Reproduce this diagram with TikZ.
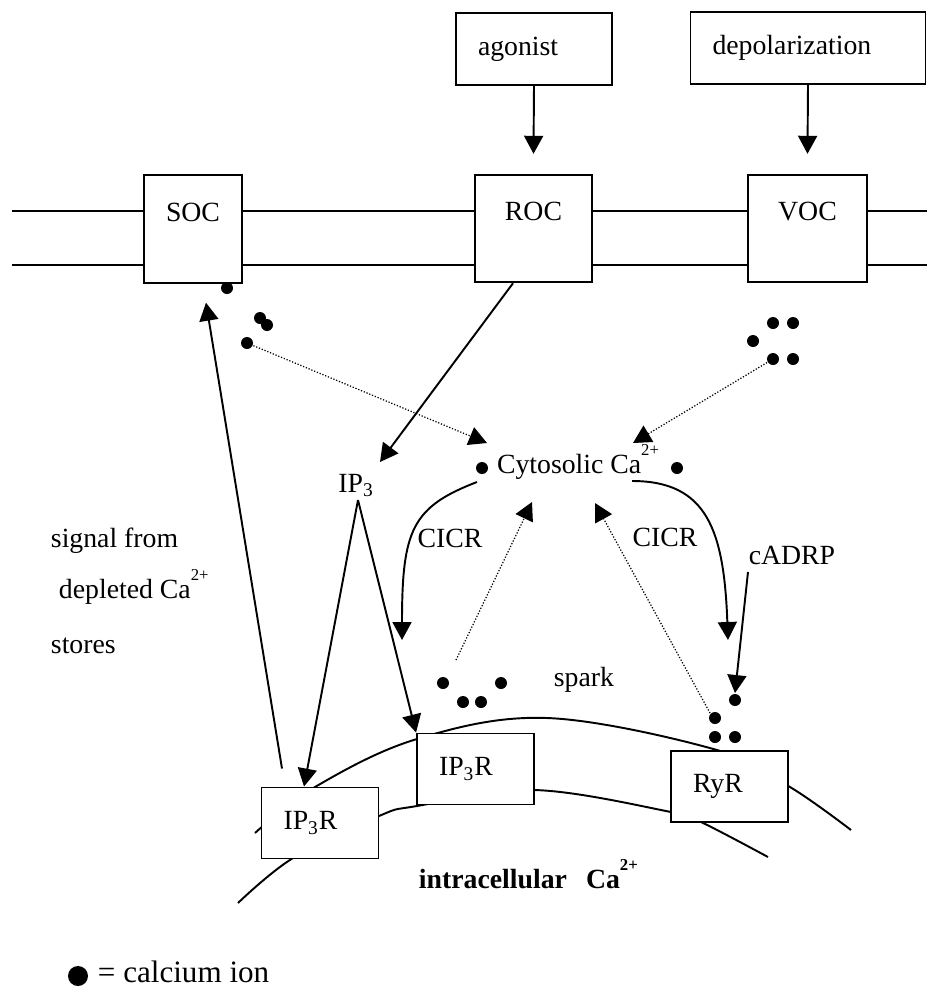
\documentclass[tikz,border=0pt]{standalone}
\usepackage{fontspec}
\setmainfont{Liberation Serif}
\usetikzlibrary{arrows.meta}
\newcommand{\mainsize}{\fontsize{15.8pt}{19pt}\selectfont}
\newcommand{\caii}{Ca\raisebox{0.62em}{\fontsize{9.5pt}{10pt}\selectfont 2+}}
\newcommand{\ipt}{IP\textsubscript{3}}

\begin{document}
\begin{tikzpicture}[x=0.02cm,y=-0.02cm,>={Triangle[length=0.36cm,width=0.38cm]},
                    font=\mainsize,line width=1.1pt]
  \tikzstyle{box}=[draw,fill=white,inner sep=0pt]
  \tikzstyle{chan}=[box,minimum height=2.15cm]
  \tikzstyle{lbl}=[anchor=center,yshift=-0.76cm]
  \tikzstyle{stim}=[box,inner xsep=0.44cm,align=left,minimum height=1.44cm]
  \tikzstyle{rec}=[box,inner xsep=0.44cm,align=left,text width=1.46cm,minimum height=1.42cm]
  \tikzstyle{ion}=[circle,fill=black,inner sep=0pt,minimum size=0.24cm]
  \tikzstyle{sig}=[->]
  \tikzstyle{leak}=[->,densely dotted,line width=0.7pt]

  \useasboundingbox (0,0) rectangle (927,991);

  \draw (12,211) -- (927,211);
  \draw (12,265) -- (927,265);
  \draw plot[smooth,tension=0.6] coordinates {(255,833) (315,787) (417,739) (547,718) (717,750) (790,787) (851,830)};
  \draw plot[smooth,tension=0.6] coordinates {(238,903) (293,858) (379,816) (417,806) (534,790) (671,812) (701,822) (768,857)};

  \node[stim,text width=2.24cm] (agonist) at (534,49) {agonist};
  \node[stim,text width=3.82cm] (depol)   at (808,48) {depolarization};

  \node[chan,minimum width=1.96cm,label={[lbl]north:SOC}] (soc) at (193,229)   {};
  \node[chan,minimum width=2.34cm,label={[lbl]north:ROC}] (roc) at (533.5,228.5) {};
  \node[chan,minimum width=2.38cm,label={[lbl]north:VOC}] (voc) at (807.5,228.5) {};

  \node[rec] (ip3rA) at (320,823)     {\ipt R};
  \node[rec] (ip3rB) at (475.5,769)   {\ipt R};
  \node[rec] (ryr)   at (729.5,786.5) {RyR};

  \node[anchor=base,inner sep=0pt] (cyto) at (578,473) {Cytosolic \caii};
  \node[anchor=base,inner sep=0pt] (ip3)  at (356,492) {\ipt};
  \node (cicrA) at (450,538) {CICR};
  \node (cicrB) at (665,537) {CICR};
  \node (cadrp) at (792,555) {cADRP};
  \node (spark) at (584,680) {spark};
  \node[anchor=base west,inner sep=0pt] (sig1) at (50,547) {signal from};
  \node[anchor=base west,inner sep=0pt] (sig2) at (58,598) {depleted \caii};
  \node[anchor=base west,inner sep=0pt] (sig3) at (50,653) {stores};
  \node[anchor=base west,inner sep=0pt,font=\mainsize\bfseries] (intra) at (418,888)
       {intracellular\hspace{0.38cm}\caii};

  \foreach \x/\y [count=\i] in {227/288,260/318,267/325,247/343}
    \node[ion] (s\i) at (\x,\y) {};
  \foreach \x/\y [count=\i] in {773/323,793/323,753/341,773/359,793/359}
    \node[ion] (v\i) at (\x,\y) {};
  \foreach \x/\y [count=\i] in {443/683,501/683,463/702,481/702}
    \node[ion] (k\i) at (\x,\y) {};
  \foreach \x/\y [count=\i] in {735/700,715/718,715/737,735/737}
    \node[ion] (r\i) at (\x,\y) {};
  \node[ion] (cl) at (482,468) {};
  \node[ion] (cr) at (677,468) {};

  \coordinate (cA) at (402,640);
  \coordinate (cB) at (728,640);

  \draw[sig] (agonist.south) -- ([yshift=0.4cm]roc.north);
  \draw[sig] (depol.south) -- ([yshift=0.4cm]voc.north);
  \draw[sig] ([xshift=-0.41cm]roc.south) -- ([shift={(24,-30)}]ip3.base);
  \draw[sig] ([shift={(2,8)}]ip3.base) -- ([xshift=-0.32cm]ip3rA.north);
  \draw[sig] ([shift={(2,8)}]ip3.base) -- (ip3rB.north west);
  \draw[sig] ([shift={(-38,-18)}]ip3rA.north) -- ([shift={(13,19)}]soc.south);
  \draw[sig] ([shift={(-101,9)}]cyto.base) .. controls +(-65,25) and +(0,-110) .. (cA);
  \draw[sig] ([shift={(54,8)}]cyto.base) .. controls +(75,0) and +(-4,-110) .. (cB);
  \draw[sig] ([shift={(-44,17)}]cadrp.center) -- (r1.north);

  \draw[leak] (s4) -- ([shift={(-91,-30)}]cyto.base);
  \draw[leak] (v4) -- ([shift={(55,-30)}]cyto.base);
  \draw[leak] ([shift={(13,-23)}]k1.center) -- ([shift={(-46,29)}]cyto.base);
  \draw[leak] (r2.north west) -- ([shift={(17,30)}]cyto.base);

  \node[ion,minimum size=0.4cm] (key) at (78,976) {};
  \node[anchor=base west,inner sep=0pt,font=\fontsize{17.7pt}{21pt}\selectfont] (keytxt) at (97,982)
       {= calcium ion};
\end{tikzpicture}
\end{document}
